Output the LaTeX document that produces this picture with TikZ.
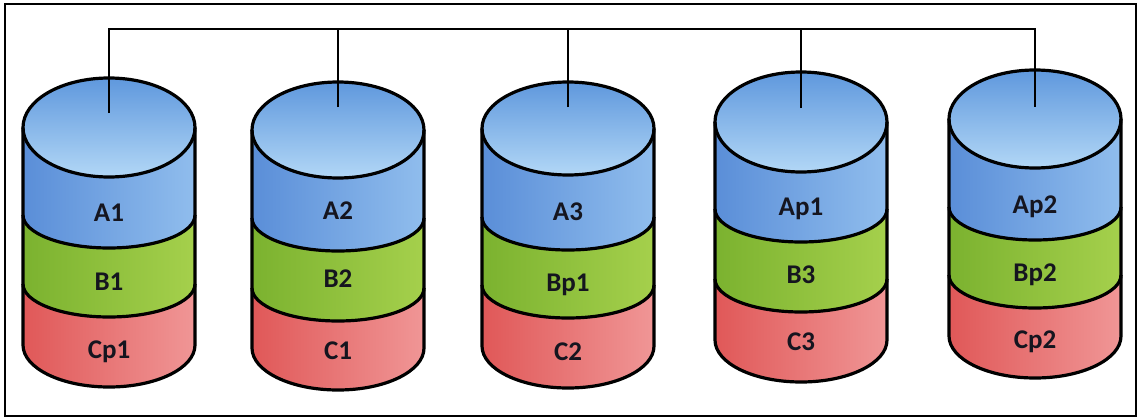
\documentclass[tikz,border=0pt]{standalone}
\usepackage{fontspec}
\setmainfont{Carlito}
\definecolor{blueL}{HTML}{5A8ED8}
\definecolor{blueR}{HTML}{90BDED}
\definecolor{topT}{HTML}{5F98DD}
\definecolor{topB}{HTML}{B2D7F6}
\definecolor{greenL}{HTML}{7BB22F}
\definecolor{greenR}{HTML}{A5D04C}
\definecolor{redL}{HTML}{E05858}
\definecolor{redR}{HTML}{F09696}
\definecolor{txt}{HTML}{15151F}
\begin{document}
\begin{tikzpicture}[x=1pt,y=-1pt,
  outline/.style={draw=black,line width=3.2pt,line join=round},
  wire/.style={draw=black,line width=2.6pt},
  blueband/.style={left color=blueL,right color=blueR},
  topface/.style={top color=topT,bottom color=topB},
  greenband/.style={left color=greenL,right color=greenR},
  redband/.style={left color=redL,right color=redR},
  lab/.style={font=\bfseries\fontsize{27}{27}\selectfont,text=txt,anchor=base,inner sep=0pt}]
\useasboundingbox (0,0) rectangle (1141,420);
\draw[line width=2.6pt] (5,4) rectangle (1136,416);
\def\rx{86}
\foreach \n/\x/\t/\rt/\da/\db/\bb/\ya/\yb/\yc/\s/\la/\lb/\lc in {
  c1/109/127.5/49.5/215/284/345/213/282/350/113/A1/B1/Cp1,
  c2/338/130/48/218/288/348/211/279/351/107/A2/B2/C1,
  c3/568/128.5/46.5/217/285/346/212/283/352/107/A3/Bp1/C2,
  c4/801/122/50/209/279/340/207/275/342/108/Ap1/B3/C3,
  c5/1035/119/49/207/275/336/205/273/340/107/Ap2/Bp2/Cp2}{
  % red band
  \shade[redband] ({\x-\rx},\db) -- ({\x-\rx},\bb)
     arc[start angle=180,end angle=0,x radius=\rx,y radius=42]
     -- ({\x+\rx},\db)
     arc[start angle=0,end angle=180,x radius=\rx,y radius=33] -- cycle;
  % green band
  \shade[greenband] ({\x-\rx},\da) -- ({\x-\rx},\db)
     arc[start angle=180,end angle=0,x radius=\rx,y radius=33]
     -- ({\x+\rx},\da)
     arc[start angle=0,end angle=180,x radius=\rx,y radius=33] -- cycle;
  % blue band
  \shade[blueband] ({\x-\rx},\t) -- ({\x-\rx},\da)
     arc[start angle=180,end angle=0,x radius=\rx,y radius=33]
     -- ({\x+\rx},\t)
     arc[start angle=0,end angle=180,x radius=\rx,y radius=\rt] -- cycle;
  % top face
  \shade[topface] (\x,\t) ellipse[x radius=\rx,y radius=\rt];
  % outlines
  \draw[outline] ({\x-\rx},\t) -- ({\x-\rx},\bb)
     arc[start angle=180,end angle=0,x radius=\rx,y radius=42] -- ({\x+\rx},\t);
  \draw[outline] (\x,\t) ellipse[x radius=\rx,y radius=\rt];
  \draw[outline] ({\x-\rx},\da) arc[start angle=180,end angle=0,x radius=\rx,y radius=33];
  \draw[outline] ({\x-\rx},\db) arc[start angle=180,end angle=0,x radius=\rx,y radius=33];
  % labels
  \node[lab] (\n a) at (\x,{\ya+8.5}) {\la};
  \node[lab] (\n b) at (\x,{\yb+8.5}) {\lb};
  \node[lab] (\n c) at (\x,{\yc+8.5}) {\lc};
  \coordinate (\n s) at (\x,\s);
}
\coordinate (bus) at (0,29);
\draw[wire] (c1s) -- (c1s |- bus) -- (c5s |- bus) -- (c5s);
\draw[wire] (c2s) -- (c2s |- bus);
\draw[wire] (c3s) -- (c3s |- bus);
\draw[wire] (c4s) -- (c4s |- bus);
\end{tikzpicture}
\end{document}
